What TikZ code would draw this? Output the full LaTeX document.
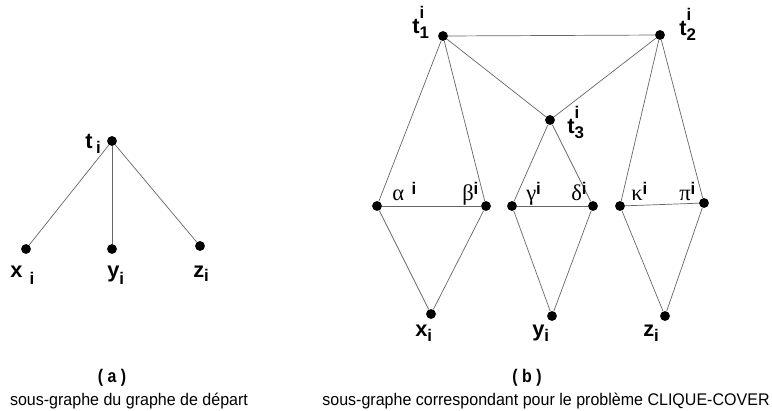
\documentclass[tikz,border=0pt]{standalone}
\usepackage{fontspec}
\setmainfont{Liberation Sans}
\newfontfamily\grkfont{Liberation Serif}
\usetikzlibrary{positioning}

% small bold index letters
\newcommand{\idx}[1]{{\fontsize{12}{12}\selectfont\bfseries #1}}
\newcommand{\tlab}[2]{t\rlap{\raisebox{10pt}{\idx{#2}}}\raisebox{-4pt}{\idx{#1}}}
\newcommand{\glab}[2]{{\grkfont #1}#2\raisebox{4pt}{\idx{i}}}
\newcommand{\narrow}[2][0.87]{\scalebox{#1}[1]{#2}}

\tikzset{
  dot/.style={circle,fill=black,inner sep=0pt,minimum size=7pt},
  edge/.style={draw=black!60,line width=0.5pt},
  vlab/.style={anchor=base west,inner sep=0pt,font=\fontsize{15.5}{15.5}\selectfont\bfseries},
  grk/.style={anchor=base west,inner sep=0pt,font=\fontsize{16}{16}\selectfont},
  captxt/.style={inner sep=0pt,font=\fontsize{12}{12}\selectfont}
}

\begin{document}
\begin{tikzpicture}[x=0.025cm,y=-0.025cm]
\useasboundingbox (0,0) rectangle (772,410);
% (a) sous-graphe de depart
\node[dot] (ta) at (112,141) {};
\node[dot] (xa) at (26,249) {};
\node[dot] (ya) at (112,249) {};
\node[dot] (za) at (200,246) {};
\draw[edge] (ta)--(xa);
\draw[edge] (ta)--(ya);
\draw[edge] (ta)--(za);
\node[vlab] (lta) at (85,148) {t\,\raisebox{-4pt}{\idx{i}}};
\node[vlab] (lxa) at (10,277) {x\,\,\raisebox{-5pt}{\idx{i}}};
\node[vlab] (lya) at (107,277) {y\raisebox{-5pt}{\idx{i}}};
\node[vlab] (lza) at (193,277) {z\raisebox{-3pt}{\idx{i}}};
% (b) clique-cover
\node[dot] (t1) at (443,36) {};
\node[dot] (t2) at (660,35) {};
\node[dot] (t3) at (550,120) {};
\node[dot] (al) at (377,206) {};
\node[dot] (be) at (486,206) {};
\node[dot] (ga) at (512,206) {};
\node[dot] (de) at (593,206) {};
\node[dot] (ka) at (620,206) {};
\node[dot] (pi) at (704,203) {};
\node[dot] (xb) at (431,314) {};
\node[dot] (yb) at (552,316) {};
\node[dot] (zb) at (665,316) {};
\draw[edge] (t1)--(t2);
\draw[edge] (t1)--(t3);
\draw[edge] (t2)--(t3);
\draw[edge] (t1)--(al);
\draw[edge] (t1)--(be);
\draw[edge] (t3)--(ga);
\draw[edge] (t3)--(de);
\draw[edge] (t2)--(ka);
\draw[edge] (t2)--(pi);
\draw[edge] (al)--(be);
\draw[edge] (ga)--(de);
\draw[edge] (ka)--(pi);
\draw[edge] (al)--(xb);
\draw[edge] (be)--(xb);
\draw[edge] (ga)--(yb);
\draw[edge] (de)--(yb);
\draw[edge] (ka)--(zb);
\draw[edge] (pi)--(zb);
\node[vlab] (lt1) at (412,33) {\tlab{1}{i}};
\node[vlab] (lt2) at (679,35) {\tlab{2}{i}};
\node[vlab] (lt3) at (567,133) {\tlab{3}{i}};
\node[grk] (lal) at (392,200) {\glab{α}{\,\,}};
\node[grk] (lbe) at (462,200) {\glab{β}{}};
\node[grk] (lga) at (526,200) {\glab{γ}{}};
\node[grk] (lde) at (571,200) {\glab{δ}{}};
\node[grk] (lka) at (631,200) {\glab{κ}{}};
\node[grk] (lpi) at (679,200) {\glab{π}{}};
\node[vlab] (lxb) at (415,336) {x\raisebox{-4pt}{\idx{i}}};
\node[vlab] (lyb) at (532,336) {y\raisebox{-4pt}{\idx{i}}};
\node[vlab] (lzb) at (643,336) {z\raisebox{-4pt}{\idx{i}}};
% legendes
\node[font=\fontsize{13}{13}\selectfont\bfseries] (capa) at (112,378) {\narrow{( a )}};
\node[font=\fontsize{13}{13}\selectfont\bfseries] (capb) at (527,378) {\narrow{( b )}};
\node[captxt] (txta) at (129,401) {\narrow[0.95]{sous-graphe du graphe de départ}};
\node[captxt] (txtb) at (546,401) {\narrow[0.95]{sous-graphe correspondant pour le problème CLIQUE-COVER}};
\end{tikzpicture}
\end{document}
